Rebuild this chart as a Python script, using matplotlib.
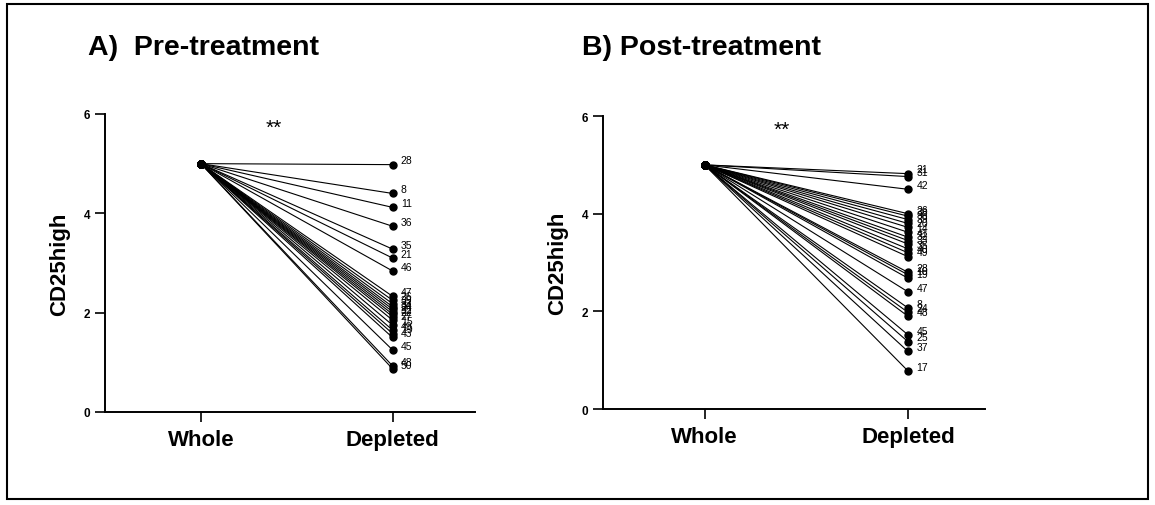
import matplotlib
matplotlib.use('Agg')
import matplotlib.pyplot as plt
from matplotlib.patches import Rectangle

plt.rcParams['font.family'] = ['Liberation Sans', 'DejaVu Sans']

conditions = ['Whole', 'Depleted']

# Pre-treatment: subject ids and CD25high in the depleted fraction (whole = 5)
pre_ids = ['28', '8', '11', '36', '35', '21', '46', '47', '26', '39', '33', '34',
           '24', '32', '22', '27', '15', '49', '19', '43', '45', '48', '50']
pre_whole = [5.0] * len(pre_ids)
pre_depleted = [4.98, 4.40, 4.12, 3.74, 3.28, 3.10, 2.84, 2.33, 2.25, 2.18, 2.12, 2.07,
                2.02, 1.97, 1.92, 1.85, 1.75, 1.65, 1.58, 1.50, 1.25, 0.93, 0.87]

# Post-treatment
post_ids = ['21', '31', '42', '26', '38', '36', '39', '20', '14', '41', '32', '33',
            '35', '40', '49', '28', '10', '19', '47', '8', '24', '48', '45', '25',
            '37', '17']
post_whole = [5.0] * len(post_ids)
post_depleted = [4.82, 4.76, 4.50, 4.00, 3.95, 3.88, 3.80, 3.72, 3.62, 3.52, 3.45, 3.38,
                 3.28, 3.20, 3.12, 2.80, 2.75, 2.68, 2.40, 2.07, 1.98, 1.90, 1.52, 1.38,
                 1.18, 0.78]

fig = plt.figure(figsize=(11.55, 5.06), dpi=100)
fig.patches.append(Rectangle((0.006, 0.012), 0.988, 0.978, transform=fig.transFigure,
                             fill=False, edgecolor='black', linewidth=1.5))


def paired_panel(ax, ids, whole, depleted, title_x, title, xmax):
    for sid, w, d in zip(ids, whole, depleted):
        ax.plot([0, 1], [w, d], color='black', linewidth=0.8, marker='o',
                markersize=5, clip_on=False)
        ax.annotate(sid, xy=(1, d), xytext=(6, 3), textcoords='offset points',
                    fontsize=7.5, ha='left', va='center')
    ax.set_xlim(-0.5, xmax)
    ax.set_ylim(0, 6)
    ax.set_yticks([0, 2, 4, 6])
    ax.set_xticks([0, 1])
    ax.set_xticklabels(conditions, fontsize=16, fontweight='bold')
    for lbl in ax.get_yticklabels():
        lbl.set_fontweight('bold')
        lbl.set_fontsize(8.5)
    ax.tick_params(axis='both', direction='out', length=7, width=1.2, colors='black')
    ax.tick_params(axis='x', pad=5)
    ax.spines['top'].set_visible(False)
    ax.spines['right'].set_visible(False)
    ax.spines['left'].set_linewidth(1.4)
    ax.spines['bottom'].set_linewidth(1.4)
    ax.set_ylabel('CD25high', fontsize=16, fontweight='bold', labelpad=10)
    ax.text(0.38, 5.73, '**', fontsize=15, ha='center', va='center')
    fig.text(title_x, 0.905, title, fontsize=20.5, fontweight='bold', ha='left', va='center')


ax1 = fig.add_axes([0.0909, 0.1838, 0.3203, 0.589])
paired_panel(ax1, pre_ids, pre_whole, pre_depleted, 0.076, 'A)  Pre-treatment', 1.43)

ax2 = fig.add_axes([0.522, 0.1897, 0.331, 0.579])
paired_panel(ax2, post_ids, post_whole, post_depleted, 0.504, 'B) Post-treatment', 1.38)

fig.savefig('out.png', dpi=100, facecolor='white')
